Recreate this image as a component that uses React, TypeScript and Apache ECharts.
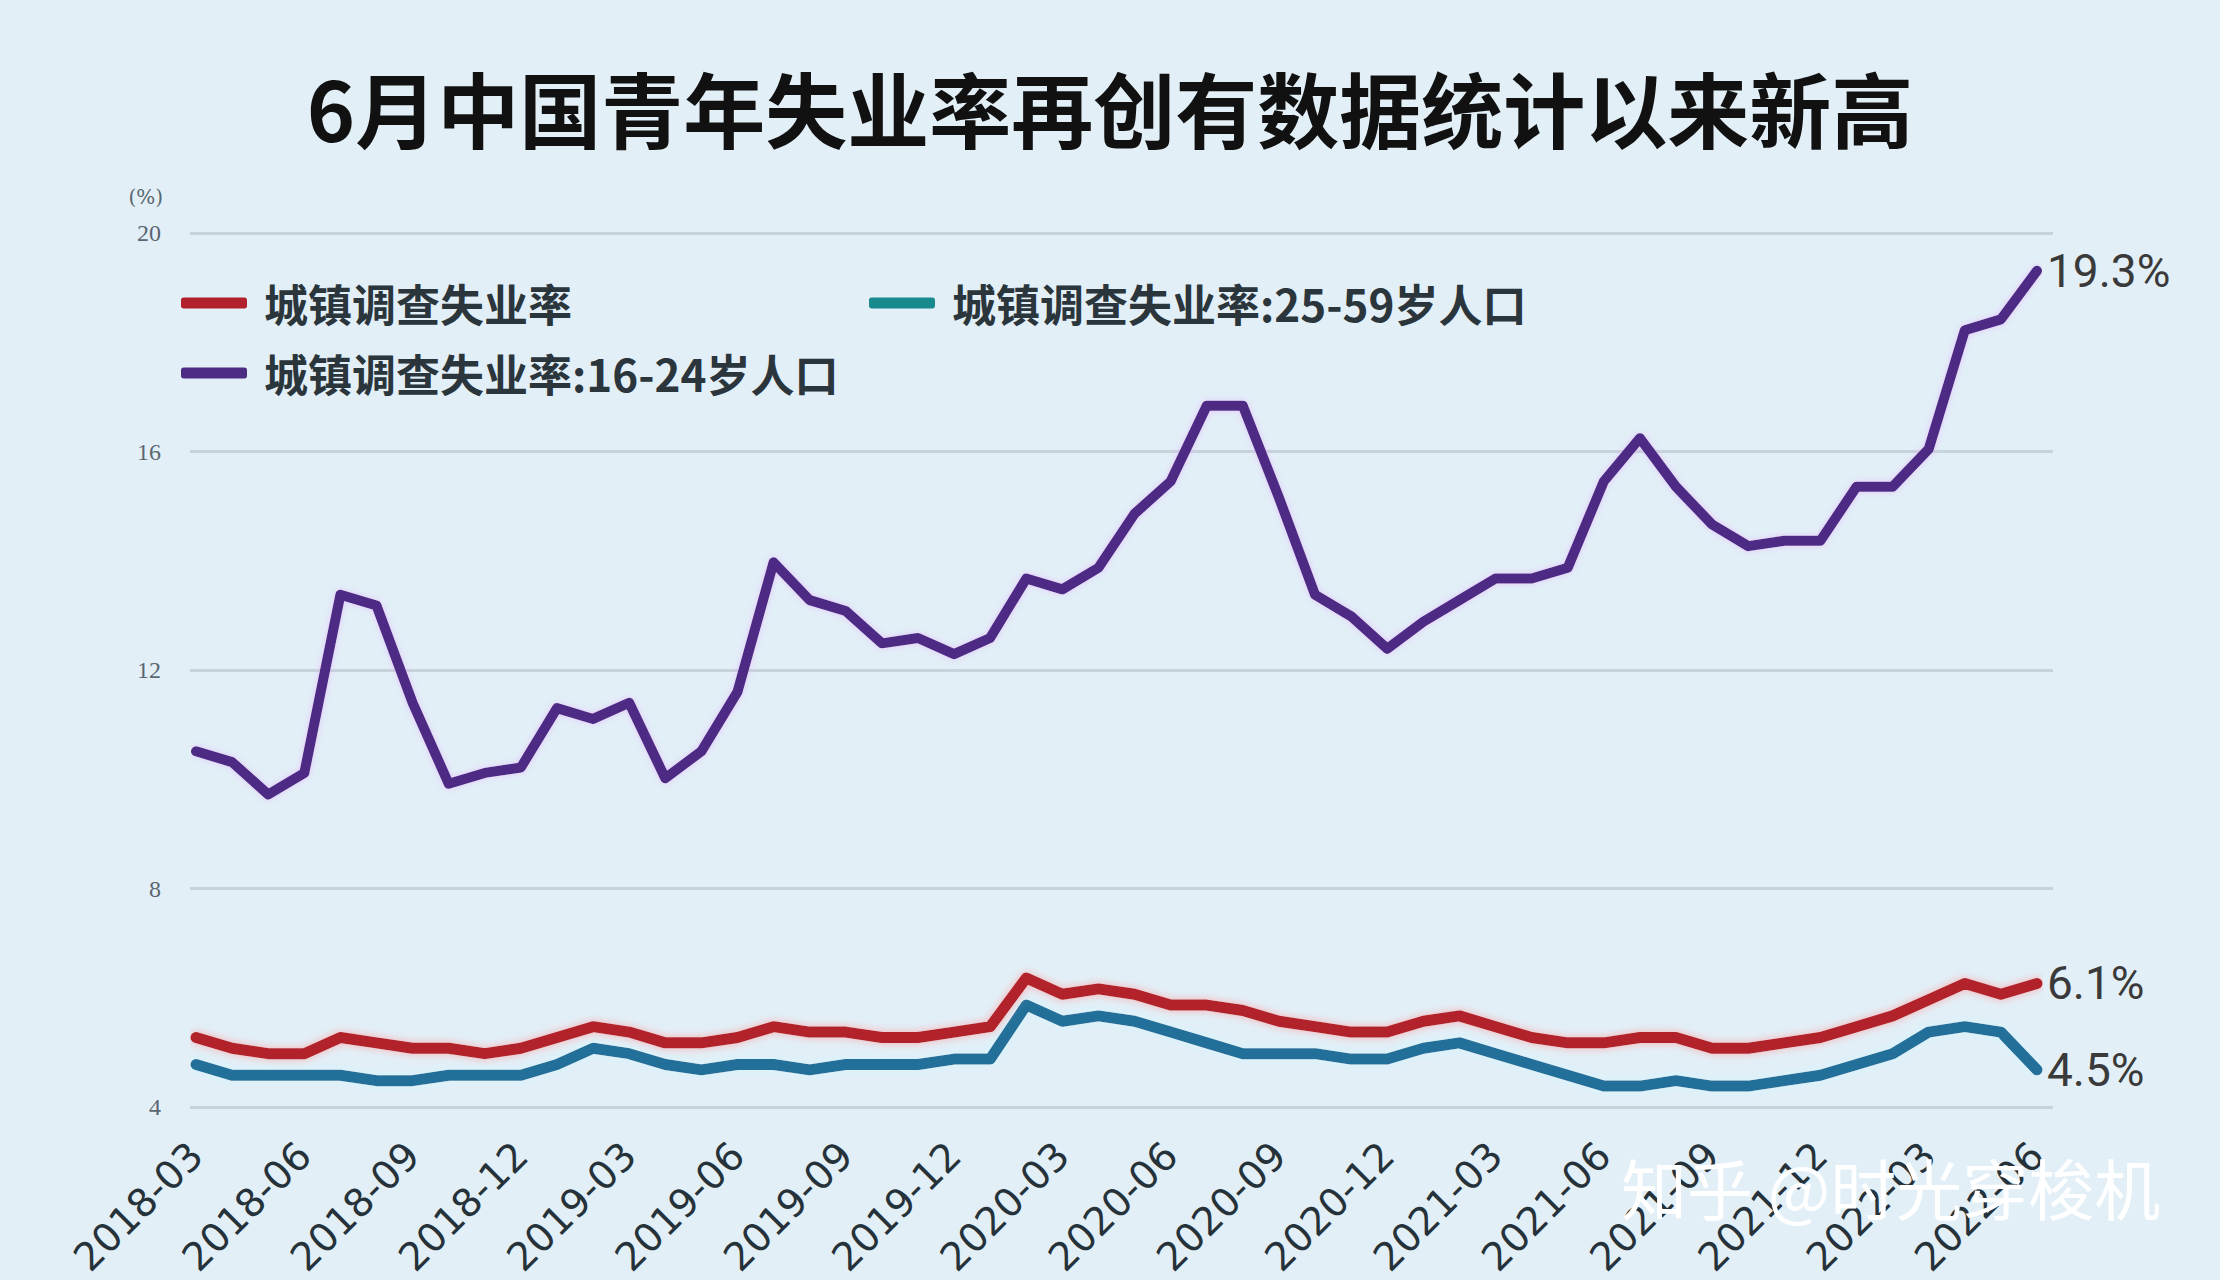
import React, { useEffect, useRef } from 'react';
import * as echarts from 'echarts';

const titleText = '6月中国青年失业率再创有数据统计以来新高';
const watermarkText = '知乎 @时光穿梭机';
const unitName = '(%)';

const months = [
  '2018-03', '2018-04', '2018-05', '2018-06', '2018-07', '2018-08', '2018-09', '2018-10', '2018-11', '2018-12',
  '2019-01', '2019-02', '2019-03', '2019-04', '2019-05', '2019-06', '2019-07', '2019-08', '2019-09', '2019-10', '2019-11', '2019-12',
  '2020-01', '2020-02', '2020-03', '2020-04', '2020-05', '2020-06', '2020-07', '2020-08', '2020-09', '2020-10', '2020-11', '2020-12',
  '2021-01', '2021-02', '2021-03', '2021-04', '2021-05', '2021-06', '2021-07', '2021-08', '2021-09', '2021-10', '2021-11', '2021-12',
  '2022-01', '2022-02', '2022-03', '2022-04', '2022-05', '2022-06',
];

const seriesNames = ['城镇调查失业率', '城镇调查失业率:25-59岁人口', '城镇调查失业率:16-24岁人口'];

const overall = [
  5.1, 4.9, 4.8, 4.8, 5.1, 5.0, 4.9, 4.9, 4.8, 4.9,
  5.1, 5.3, 5.2, 5.0, 5.0, 5.1, 5.3, 5.2, 5.2, 5.1, 5.1, 5.2,
  5.3, 6.2, 5.9, 6.0, 5.9, 5.7, 5.7, 5.6, 5.4, 5.3, 5.2, 5.2,
  5.4, 5.5, 5.3, 5.1, 5.0, 5.0, 5.1, 5.1, 4.9, 4.9, 5.0, 5.1,
  5.3, 5.5, 5.8, 6.1, 5.9, 6.1,
];

const age2559 = [
  4.6, 4.4, 4.4, 4.4, 4.4, 4.3, 4.3, 4.4, 4.4, 4.4,
  4.6, 4.9, 4.8, 4.6, 4.5, 4.6, 4.6, 4.5, 4.6, 4.6, 4.6, 4.7,
  4.7, 5.7, 5.4, 5.5, 5.4, 5.2, 5.0, 4.8, 4.8, 4.8, 4.7, 4.7,
  4.9, 5.0, 4.8, 4.6, 4.4, 4.2, 4.2, 4.3, 4.2, 4.2, 4.3, 4.4,
  4.6, 4.8, 5.2, 5.3, 5.2, 4.5,
];

const age1624 = [
  10.4, 10.2, 9.6, 10.0, 13.3, 13.1, 11.3, 9.8, 10.0, 10.1,
  11.2, 11.0, 11.3, 9.9, 10.4, 11.5, 13.9, 13.2, 13.0, 12.4, 12.5, 12.2,
  12.5, 13.6, 13.4, 13.8, 14.8, 15.4, 16.8, 16.8, 15.1, 13.3, 12.9, 12.3,
  12.8, 13.2, 13.6, 13.6, 13.8, 15.4, 16.2, 15.3, 14.6, 14.2, 14.3, 14.3,
  15.3, 15.3, 16.0, 18.2, 18.4, 19.3,
];

const yMin = 4;
const yMax = 20;
const yStep = 4;

const RED = '#b1212b';
const BLUE = '#22709a';
const TEAL_ICON = '#188a8e';
const PURPLE = '#4d2c84';

export default function App() {
  const ref = useRef<HTMLDivElement>(null);

  useEffect(() => {
    if (!ref.current) return;
    const chart = echarts.init(ref.current, null, { renderer: 'svg' });

    const legendText = {
      fontSize: 44,
      color: '#2b353c',
      fontFamily: '"Noto Sans CJK SC", sans-serif',
      fontWeight: 'bold',
      padding: [0, 0, 0, 12],
    };
    const legendBase = {
      itemWidth: 66,
      itemHeight: 11,
      icon: 'roundRect',
      textStyle: legendText,
    };

    const endLabel = () => ({
      show: true,
      formatter: (p: any) => p.value + '%',
      fontSize: 46,
      color: '#3a3a3a',
      fontFamily: 'Roboto, "Liberation Sans", sans-serif',
      distance: 10,
    });

    const option: any = {
      animation: false,
      backgroundColor: '#e2eff7',
      title: {
        text: titleText,
        left: 'center',
        top: 60,
        textStyle: {
          fontSize: 82,
          fontWeight: 'bold',
          color: '#111111',
          fontFamily: '"Noto Sans CJK SC", sans-serif',
        },
      },
      legend: [
        { ...legendBase, data: [{ name: seriesNames[0] }], left: 176, top: 276 },
        { ...legendBase, data: [{ name: seriesNames[1], itemStyle: { color: TEAL_ICON } }], left: 864, top: 276 },
        { ...legendBase, data: [{ name: seriesNames[2] }], left: 176, top: 346 },
      ],
      grid: [
        { left: 196, right: 183, top: 233, bottom: 173 },
        { left: 190, right: 167, top: 233, bottom: 173 },
      ],
      xAxis: [
        {
          gridIndex: 0,
          type: 'category',
          data: months,
          boundaryGap: false,
          axisLine: { show: false },
          axisTick: { show: false },
          splitLine: { show: false },
          axisLabel: {
            interval: 2,
            rotate: 45,
            margin: 52,
            fontSize: 39,
            color: '#26323a',
            fontFamily: '"DejaVu Sans", sans-serif',
          },
        },
        { gridIndex: 1, type: 'value', min: 0, max: 1, show: false },
      ],
      yAxis: [
        { gridIndex: 0, type: 'value', min: yMin, max: yMax, interval: yStep, show: false },
        {
          gridIndex: 1,
          type: 'value',
          min: yMin,
          max: yMax,
          interval: yStep,
          name: unitName,
          nameLocation: 'end',
          nameGap: 26,
          nameTextStyle: {
            fontSize: 20,
            color: '#5a6670',
            align: 'right',
            padding: [0, 27, 0, 0],
            fontFamily: '"DejaVu Serif", serif',
          },
          axisLine: { show: false },
          axisTick: { show: false },
          axisLabel: {
            margin: 29,
            fontSize: 24,
            color: '#5a6670',
            fontFamily: '"Liberation Serif", serif',
          },
          splitLine: { lineStyle: { color: '#c7d3db', width: 3 } },
        },
      ],
      series: [
        {
          name: seriesNames[1],
          type: 'line',
          xAxisIndex: 0,
          yAxisIndex: 0,
          data: age2559,
          showSymbol: false,
          symbol: 'none',
          color: BLUE,
          lineStyle: {
            width: 11,
            color: BLUE,
            cap: 'round',
            join: 'round',
            shadowColor: 'rgba(210,245,255,0.9)',
            shadowBlur: 8,
          },
          endLabel: endLabel(),
        },
        {
          name: seriesNames[0],
          type: 'line',
          xAxisIndex: 0,
          yAxisIndex: 0,
          data: overall,
          showSymbol: false,
          symbol: 'none',
          color: RED,
          lineStyle: {
            width: 11,
            color: RED,
            cap: 'round',
            join: 'round',
            shadowColor: 'rgba(255,160,160,0.8)',
            shadowBlur: 8,
          },
          endLabel: endLabel(),
        },
        {
          name: seriesNames[2],
          type: 'line',
          xAxisIndex: 0,
          yAxisIndex: 0,
          data: age1624,
          showSymbol: false,
          symbol: 'none',
          color: PURPLE,
          lineStyle: {
            width: 10,
            color: PURPLE,
            cap: 'round',
            join: 'round',
            shadowColor: 'rgba(230,170,255,0.6)',
            shadowBlur: 6,
          },
          endLabel: endLabel(),
        },
      ],
      graphic: [
        {
          type: 'text',
          left: 1621,
          top: 1153,
          z: 100,
          style: {
            text: watermarkText,
            fill: '#ffffff',
            font: '66px "Noto Sans CJK SC", sans-serif',
            shadowColor: 'rgba(60,60,60,0.8)',
            shadowBlur: 2,
            shadowOffsetX: 2,
            shadowOffsetY: 2,
          },
        },
      ],
    };

    chart.setOption(option);
    return () => chart.dispose();
  }, []);

  return (
    <div
      ref={ref}
      style={{ position: 'fixed', left: 0, top: 0, width: 2220, height: 1280 }}
    />
  );
}
